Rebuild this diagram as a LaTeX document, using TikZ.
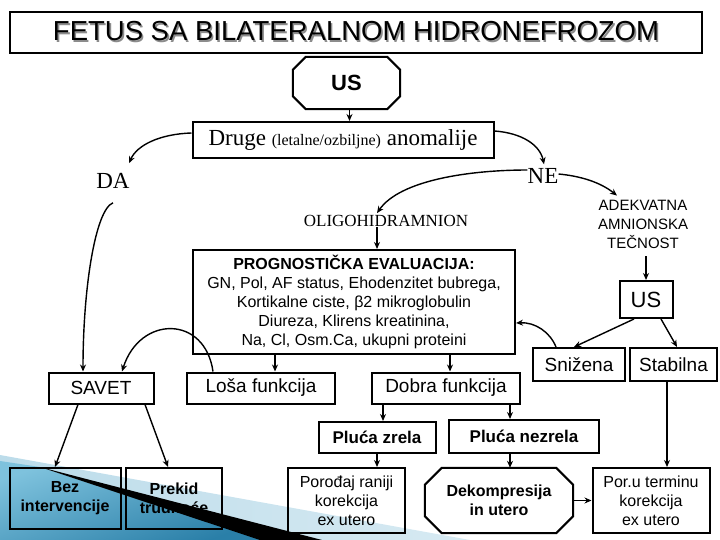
\documentclass[tikz,border=0pt]{standalone}
\usepackage{fontspec}
\setmainfont{Liberation Serif}
\newfontfamily\ar{Liberation Sans}
\usetikzlibrary{arrows.meta}
\definecolor{pale}{HTML}{BCDCEA}
\definecolor{tealA}{HTML}{2A7FA8}
\definecolor{tealB}{HTML}{7EC2DD}
\definecolor{shadowgray}{HTML}{8C8C8C}
\newcommand{\titletext}{FETUS SA BILATERALNOM HIDRONEFROZOM}
\tikzset{
  box/.style={draw, line width=2pt, inner sep=0pt, align=center, font=\ar\fontsize{16}{19}\selectfont},
  plain/.style={inner sep=0pt, align=center},
  ghost/.style={inner sep=0pt, align=center, font=\ar\fontsize{16}{19}\selectfont},
  octline/.style={line width=2pt, line join=miter},
  arr/.style={line width=1.4pt, -{Stealth[length=7pt,width=6pt]}},
  big/.style={font=\ar\fontsize{19}{22}\selectfont},
  boldf/.style={font=\ar\bfseries\fontsize{16}{19}\selectfont},
}
\begin{document}
\begin{tikzpicture}[x=1pt,y=-1pt]
\useasboundingbox (0,0) rectangle (720,540);
% decorative swoosh
\shade[left color=pale, right color=pale!60] (0,455) -- (470,540) -- (0,540) -- cycle;
\shade[top color=tealB, bottom color=tealA, shading angle=20] (0,461) -- (40,467) -- (262,540) -- (0,540) -- cycle;
\fill[black] (40,467) -- (322,540) -- (260,540) -- cycle;

% title (with its grey drop shadow)
\node[draw, line width=2.2pt, minimum width=692, minimum height=41, inner sep=0pt, font=\ar\fontsize{27.5}{30}\selectfont] (title) at (356,32.5) {\makebox[0pt][l]{\hspace*{1.6pt}\raisebox{-2pt}{\color{shadowgray}\titletext}}\titletext};

% US octagon
\node[ghost, minimum width=107, minimum height=52, font=\ar\bfseries\fontsize{22}{24}\selectfont] (us1) at (346.5,83) {US};
\draw[octline] ([xshift=13pt]us1.north west) -- ([xshift=-13pt]us1.north east) -- ([yshift=-13pt]us1.north east) -- ([yshift=13pt]us1.south east) -- ([xshift=-13pt]us1.south east) -- ([xshift=13pt]us1.south west) -- ([yshift=13pt]us1.south west) -- ([yshift=-13pt]us1.north west) -- cycle;

\node[box, minimum width=301, minimum height=36, font=\fontsize{23}{25}\selectfont] (druge) at (343,140) {Druge {\fontsize{16}{18}\selectfont (letalne/ozbiljne)} anomalije};

\node[plain, font=\fontsize{23}{25}\selectfont] (da) at (113,181) {DA};
\node[plain, font=\fontsize{23}{25}\selectfont] (ne) at (543,176) {NE};
\node[plain, font=\fontsize{17}{19}\selectfont] (oligo) at (386,221) {OLIGOHIDRAMNION};
\node[plain, font=\ar\fontsize{15}{19}\selectfont] (adek) at (643,224) {ADEKVATNA\\AMNIONSKA\\TEČNOST};

\node[box, minimum width=322, minimum height=104] (prog) at (354,302) {{\bfseries PROGNOSTIČKA EVALUACIJA:}\\GN, Pol, AF status, Ehodenzitet bubrega,\\Kortikalne ciste, β2 mikroglobulin\\Diureza, Klirens kreatinina,\\Na, Cl, Osm.Ca, ukupni proteini};

\node[box, minimum width=53, minimum height=37, font=\ar\fontsize{22}{24}\selectfont] (us2) at (646,299.5) {US};
\node[box, big, minimum width=92, minimum height=33] (snizena) at (579,364.5) {Snižena};
\node[box, big, minimum width=87, minimum height=33] (stabilna) at (673.5,364.5) {Stabilna};

\node[box, big, minimum width=105, minimum height=31] (savet) at (101,388) {SAVET};
\node[box, big, minimum width=148, minimum height=31] (losa) at (261,388) {Loša funkcija};
\node[box, big, minimum width=148, minimum height=31] (dobra) at (446,388) {Dobra funkcija};

\node[box, font=\ar\bfseries\fontsize{17}{19}\selectfont, minimum width=117, minimum height=31] (zrela) at (377,437.5) {Pluća zrela};
\node[box, font=\ar\bfseries\fontsize{17}{19}\selectfont, minimum width=150, minimum height=33] (nezrela) at (524,436.5) {Pluća nezrela};

\node[box, boldf, minimum width=111, minimum height=61] (bez) at (65,498.5) {Bez\\intervencije};
\node[box, boldf, minimum width=96, minimum height=61] (prekid) at (174,498.5) {Prekid\\trudnoće};
\node[box, minimum width=117, minimum height=65] (porodjaj) at (346.5,500.5) {Porođaj raniji\\korekcija\\ex utero};
\node[ghost, boldf, minimum width=148, minimum height=65] (dekomp) at (499,500.5) {Dekompresija\\in utero};
\draw[octline] ([xshift=17pt]dekomp.north west) -- ([xshift=-17pt]dekomp.north east) -- ([yshift=-17pt]dekomp.north east) -- ([yshift=17pt]dekomp.south east) -- ([xshift=-17pt]dekomp.south east) -- ([xshift=17pt]dekomp.south west) -- ([yshift=17pt]dekomp.south west) -- ([yshift=-17pt]dekomp.north west) -- cycle;
\node[box, minimum width=117, minimum height=65] (portermin) at (651,500.5) {Por.u terminu\\korekcija\\ex utero};

% connectors
\draw[arr] ([xshift=3pt]us1.south) -- ([xshift=3pt]us1.south |- druge.north);
\draw[arr] ([yshift=7pt]druge.west) .. controls (160,134) and (137,145) .. ([xshift=16pt,yshift=10pt]da.north);
\draw[arr] ([yshift=9pt]druge.east) .. controls (522,133) and (540,145) .. ([xshift=1pt,yshift=4pt]ne.north);
\draw[arr] ([yshift=6pt]ne.west) .. controls (470,170) and (400,180) .. ([xshift=-9pt,yshift=2pt]oligo.north);
\draw[arr] ([yshift=2pt]ne.east) .. controls (580,176) and (600,182) .. ([xshift=-26pt,yshift=4pt]adek.north);
\draw[arr] ([yshift=-14pt]da.south) .. controls (95,210) and (83,290) .. ([xshift=-18pt]savet.north);
\draw[arr] ([xshift=-9pt]oligo.south) -- ([xshift=-9pt]oligo.south |- prog.north);
\draw[arr] ([yshift=-8pt]adek.south -| us2.north) -- (us2.north);
\draw[arr] ([xshift=-12pt]us2.south) -- ([xshift=-5pt]snizena.north);
\draw[arr] ([xshift=15pt]us2.south) -- ([xshift=3.5pt]stabilna.north);
\draw[arr] ([xshift=-23pt]snizena.north) .. controls (550,332) and (535,322) .. ([yshift=-21pt]prog.east);
\draw[arr] ([xshift=14pt]losa.north |- prog.south) -- ([xshift=14pt]losa.north);
\draw[arr] ([xshift=4pt]dobra.north |- prog.south) -- ([xshift=4pt]dobra.north);
\draw[arr] ([xshift=-48pt]losa.north) .. controls (205,315) and (140,315) .. ([xshift=21pt]savet.north);
\draw[arr] ([xshift=-23pt]savet.south) -- ([xshift=-10pt]bez.north);
\draw[arr] ([xshift=44pt]savet.south) -- ([xshift=-6pt]prekid.north);
\draw[arr] ([xshift=6pt]zrela.north |- dobra.south) -- ([xshift=6pt]zrela.north);
\draw[arr] ([xshift=-14pt]nezrela.north |- dobra.south) -- ([xshift=-14pt]nezrela.north);
\draw[arr] (zrela.south) -- (zrela.south |- porodjaj.north);
\draw[arr] ([xshift=-14pt]nezrela.south) -- ([xshift=-14pt]nezrela.south |- dekomp.north);
\draw[arr] (dekomp.east) -- (portermin.west);
\draw[arr] ([xshift=-6.5pt]stabilna.south) -- ([xshift=-6.5pt]stabilna.south |- portermin.north);
\end{tikzpicture}
\end{document}
